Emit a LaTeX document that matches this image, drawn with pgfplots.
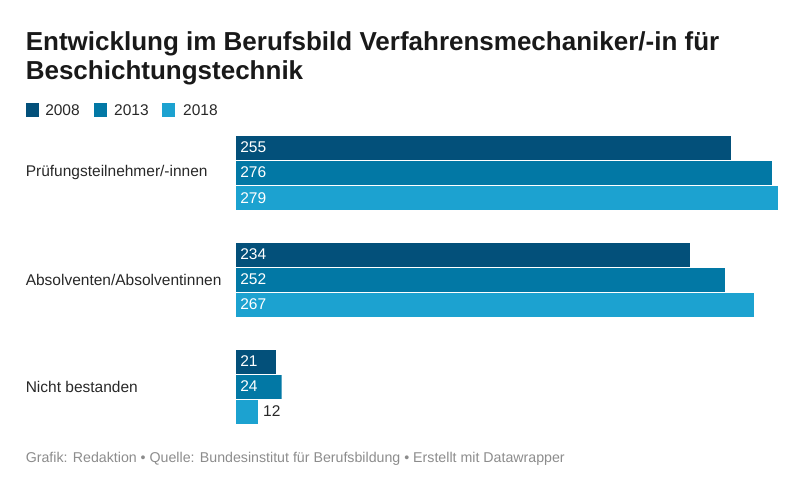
\documentclass[border=0pt]{standalone}
\usepackage{pgfplots}
\pgfplotsset{compat=1.18}
\usepackage{fontspec}
\setmainfont{Liberation Sans}
\definecolor{cA}{RGB}{3,80,122}
\definecolor{cB}{RGB}{2,120,165}
\definecolor{cC}{RGB}{28,162,208}
\definecolor{txt}{RGB}{40,40,40}
\definecolor{foot}{RGB}{140,140,140}
\tikzset{lbl/.style={anchor=west, font=\fontsize{15.5}{18}\selectfont, inner sep=0pt}}
\begin{document}
\begin{tikzpicture}
\begin{axis}[
  width=805pt, height=491pt, scale only axis,
  xmin=-120.75, xmax=292.88, ymin=0, ymax=491, y dir=reverse,
  axis lines=none, ticks=none, clip=false,
  xbar, bar width=25, bar shift=0pt,
]
\path (axis cs:-120.75,0) rectangle (axis cs:292.88,491);
\addplot[fill=cA, draw=white, line width=0.4pt] coordinates {(255,147.5) (234,254.5) (21,361.5)};
\addplot[fill=cB, draw=white, line width=0.4pt] coordinates {(276,172.5) (252,279.5) (24,386.5)};
\addplot[fill=cC, draw=white, line width=0.4pt] coordinates {(279,198) (267,304.5) (12,411.5)};
% title
\node[anchor=base west, font=\bfseries\fontsize{26}{30}\selectfont, text=black!90, inner sep=0pt] at (axis cs:-107.6,50.5) {Entwicklung im Berufsbild Verfahrensmechaniker/-in für};
\node[anchor=base west, font=\bfseries\fontsize{26}{30}\selectfont, text=black!90, inner sep=0pt] at (axis cs:-107.6,79.5) {Beschichtungstechnik};
% legend
\fill[cA] (axis cs:-107.6,103) rectangle (axis cs:-100.9,117);
\node[anchor=base west, font=\fontsize{15.5}{18}\selectfont, text=txt, inner sep=0pt] at (axis cs:-97.6,115.5) {2008};
\fill[cB] (axis cs:-72.5,103) rectangle (axis cs:-65.8,117);
\node[anchor=base west, font=\fontsize{15.5}{18}\selectfont, text=txt, inner sep=0pt] at (axis cs:-62.2,115.5) {2013};
\fill[cC] (axis cs:-37.5,103) rectangle (axis cs:-30.8,117);
\node[anchor=base west, font=\fontsize{15.5}{18}\selectfont, text=txt, inner sep=0pt] at (axis cs:-26.7,115.5) {2018};
% category labels
\node[lbl, text=txt] at (axis cs:-107.6,172.5) {Prüfungsteilnehmer/-innen};
\node[lbl, text=txt] at (axis cs:-107.6,279.5) {Absolventen/Absolventinnen};
\node[lbl, text=txt] at (axis cs:-107.6,386.5) {Nicht bestanden};
% value labels
\node[lbl, text=white] at (axis cs:2.6,147.5) {255};
\node[lbl, text=white] at (axis cs:2.6,172.5) {276};
\node[lbl, text=white] at (axis cs:2.6,198) {279};
\node[lbl, text=white] at (axis cs:2.6,254.5) {234};
\node[lbl, text=white] at (axis cs:2.6,279.5) {252};
\node[lbl, text=white] at (axis cs:2.6,304.5) {267};
\node[lbl, text=white] at (axis cs:2.6,361.5) {21};
\node[lbl, text=white] at (axis cs:2.6,386.5) {24};
\node[lbl, text=txt] at (axis cs:14.4,411.5) {12};
% footer
\node[anchor=base west, font=\fontsize{14.2}{17}\selectfont, text=foot, inner sep=0pt] at (axis cs:-107.6,462) {Grafik: Redaktion • Quelle: Bundesinstitut für Berufsbildung • Erstellt mit Datawrapper};
\end{axis}
\end{tikzpicture}
\end{document}
